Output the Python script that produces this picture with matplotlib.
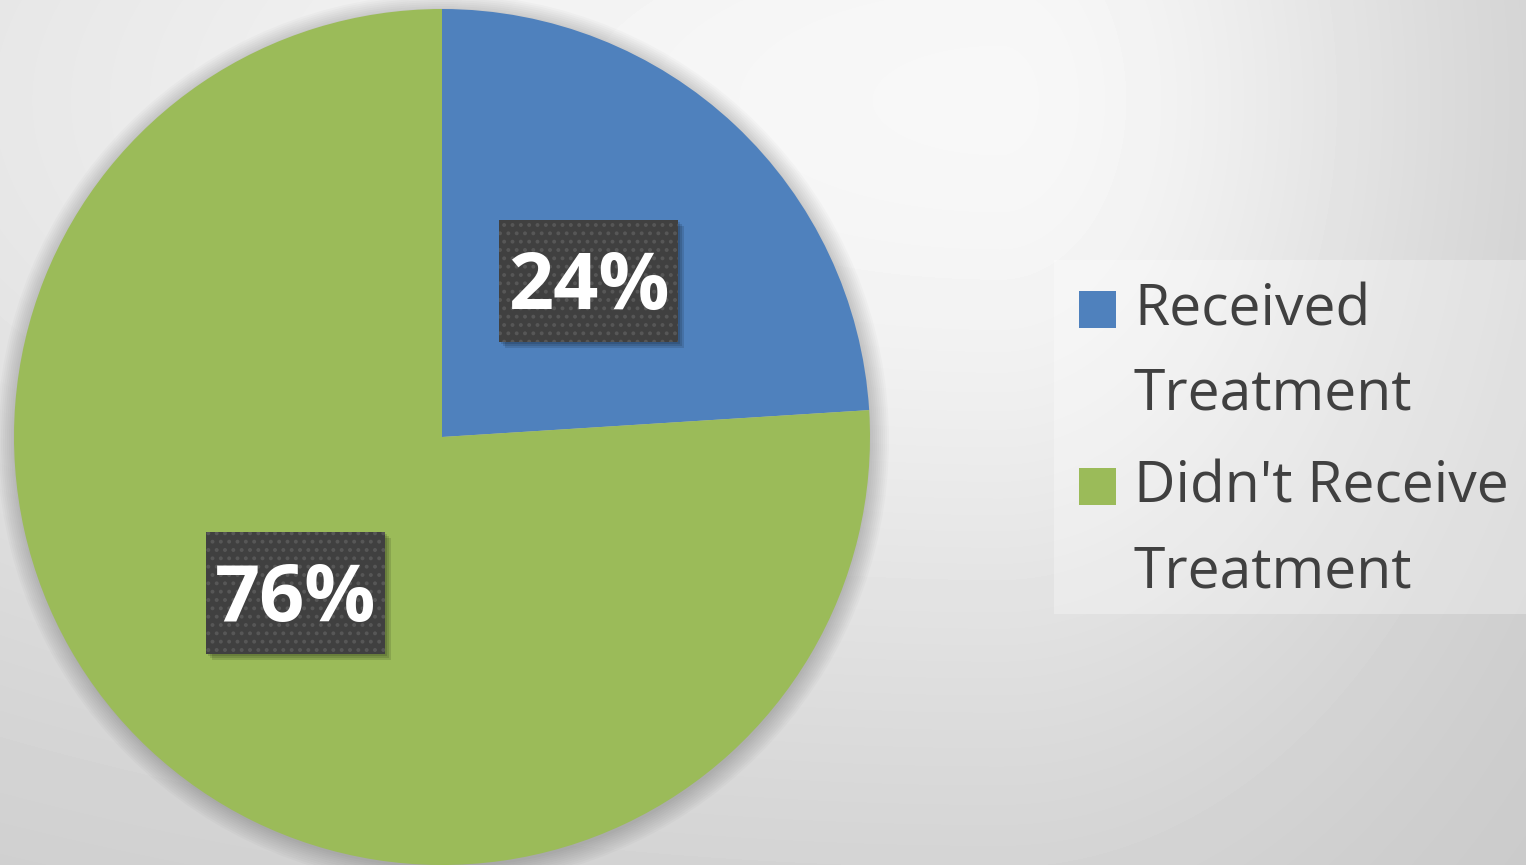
import numpy as np
import matplotlib.pyplot as plt
from matplotlib.patches import Rectangle, Circle

plt.rcParams['font.family'] = ['Open Sans', 'DejaVu Sans']
plt.rcParams['hatch.linewidth'] = 1.6

# share of patients
categories = ["Received\nTreatment", "Didn't Receive\nTreatment"]
shares = [24, 76]
colors = ["#4f81bd", "#9bbb59"]

W, H = 1526, 865
fig = plt.figure(figsize=(W / 100, H / 100), dpi=100)
ax = fig.add_axes([0, 0, 1, 1])

# grey backdrop, brightest near the top right
yy, xx = np.mgrid[0:H, 0:W]
dx = xx - 1000.0
sx = np.where(dx < 0, 1574.0, 473.0)
q = (dx / sx) ** 2 + ((yy - 100.0) / 674.0) ** 2
shade = 0.78 + 0.19 * np.exp(-q)
ax.imshow(shade, cmap="gray", vmin=0, vmax=1, extent=(0, W, 0, H),
          origin="upper", aspect="auto", zorder=0)

cx, cy, R = 442, 428, 428

# soft shadow round the pie
for i in range(10):
    ax.add_patch(Circle((cx + 1, cy - 3), R + 2 * i, color="black",
                        alpha=0.018, lw=0, zorder=1))

wedges, texts, autotexts = ax.pie(
    shares, colors=colors, startangle=90, counterclock=False,
    radius=R, center=(cx, cy), autopct="%.0f%%", pctdistance=0.5,
    wedgeprops=dict(linewidth=0, zorder=2),
    textprops=dict(fontsize=57, fontweight="bold", color="white", zorder=6))

# dark dotted boxes behind the percentages
bw, bh = 179, 122
for t in autotexts:
    x, y = t.get_position()
    for k, a in enumerate([0.12, 0.12, 0.12]):
        ax.add_patch(Rectangle((x - bw / 2 + 2 + 2 * k, y - bh / 2 - 2 - 2 * k), bw, bh,
                               facecolor="black", alpha=a, lw=0, zorder=3))
    ax.add_patch(Rectangle((x - bw / 2, y - bh / 2), bw, bh, facecolor="#404040",
                           edgecolor="#575757", hatch="..", lw=0, zorder=4))
    t.set_va("baseline")
    t.set_y(y - 0.714 * 57 * 100 / 72 / 2)

# legend
ax.add_patch(Rectangle((1054, 251), 472, 354, facecolor="white", alpha=0.3,
                       lw=0, zorder=3))
for i, (lab, col) in enumerate(zip(categories, colors)):
    base = 537 - 177 * i
    ax.add_patch(Rectangle((1079, base), 37, 37, facecolor=col, lw=0, zorder=4))
    # baseline alignment follows the last line of a multi-line label
    ax.text(1134, base - 82, lab, fontsize=41, color="#404040", va="baseline",
            ha="left", linespacing=1.64, zorder=5)

ax.set_xlim(0, W)
ax.set_ylim(0, H)
ax.set_aspect("auto")
ax.axis("off")

fig.savefig("out.png", dpi=100)
